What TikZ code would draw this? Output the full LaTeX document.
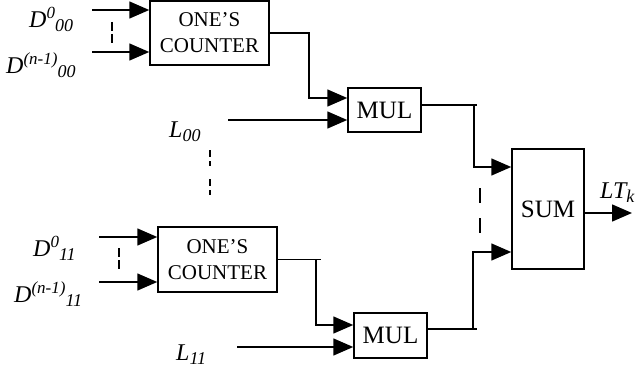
\documentclass[tikz,border=0pt]{standalone}
\usepackage{fontspec}
\setmainfont{Liberation Serif}
\usetikzlibrary{positioning,arrows.meta}
\newcommand{\sig}[3]{\textit{#1\raisebox{9pt}{\fontsize{17}{17}\selectfont #2}\raisebox{-4pt}{\fontsize{18}{18}\selectfont #3}}}

\begin{document}
\begin{tikzpicture}[x=1pt,y=-1pt,
	box/.style={draw,line width=1.5pt,inner sep=0pt,align=center,font=\fontsize{21}{26}\selectfont},
	bigbox/.style={box,font=\fontsize{25}{28}\selectfont},
	arr/.style={line width=1.5pt,-{Triangle[length=20pt,width=17pt]}},
	wire/.style={line width=1.5pt},
	gap/.style={line width=1.1pt,dash pattern=on 9pt off 3pt},
	lab/.style={inner sep=0pt,anchor=base west,font=\fontsize{24}{26}\selectfont}]
		\useasboundingbox (0,0) rectangle (635,369);
		\node [box,minimum width=119pt,minimum height=64pt]    (cnt0) at (209.5,33)    {ONE’S\\COUNTER};
		\node [box,minimum width=119pt,minimum height=65pt]    (cnt1) at (217.5,259.5) {ONE’S\\COUNTER};
		\node [bigbox,minimum width=73pt,minimum height=44pt]  (mul0) at (384.5,110)   {MUL};
		\node [bigbox,minimum width=73pt,minimum height=45pt]  (mul1) at (390.5,335.5) {MUL};
		\node [bigbox,minimum width=72pt,minimum height=120pt] (sum)  at (548,209)     {SUM};
		
		\coordinate (d00a) at (92,10);
		\coordinate (d00b) at (92,52);
		\coordinate (l00)  at (228,120);
		\coordinate (d11a) at (99,237);
		\coordinate (d11b) at (99,282);
		\coordinate (l11)  at (237,347);
		\coordinate (lt)   at (632,213);
		
		\node [lab] (d00al) at (29,28)   {\sig{D}{0}{00}};
		\node [lab] (d00bl) at (6,74)    {\sig{D}{(n-1)}{00}};
		\node [lab] (l00l)  at (169,137) {\sig{L}{}{00}};
		\node [lab] (d11al) at (33,256)  {\sig{D}{0}{11}};
		\node [lab] (d11bl) at (14,302)  {\sig{D}{(n-1)}{11}};
		\node [lab] (l11l)  at (176,360) {\sig{L}{}{11}};
		\node [lab] (ltl)   at (600,198) {\sig{LT}{}{k}};
		
		\draw [arr] (d00a) -- (d00a -| cnt0.west);
		\draw [arr] (d00b) -- (d00b -| cnt0.west);
		\draw [arr] (d11a) -- (d11a -| cnt1.west);
		\draw [arr] (d11b) -- (d11b -| cnt1.west);
		\draw [gap] (112,22) -- (112,43);
		\draw [gap] (119,248) -- (119,270);
		\draw [gap,dash pattern=on 7pt off 4pt on 5pt off 13pt] (210,150) -- (210,196);
		\draw [gap,dash pattern=on 15pt off 15pt] (480,188) -- (480,235);
		
		\draw [arr] (cnt0.east) -- ++(39,0) |- ([yshift=12pt]mul0.west);
		\draw [arr] (l00) -- (l00 -| mul0.west);
		\draw [wire] (cnt1.east) -- ++(43,0);
		\draw [arr] (cnt1.east) -- ++(38,0) |- ([yshift=10.5pt]mul1.west);
		\draw [arr] (l11) -- (l11 -| mul1.west);
		
		\draw [wire] ([yshift=5pt]mul0.east) -- ++(55,0);
		\draw [arr] ([yshift=5pt]mul0.east) ++(52,0) |- ([yshift=42pt]sum.west);
		\draw [wire] ([yshift=6.5pt]mul1.east) -- ++(49,0);
		\draw [arr] ([yshift=6.5pt]mul1.east) ++(45,0) |- ([yshift=-43pt]sum.west);
		\draw [arr] (lt -| sum.east) -- (lt);
	\end{tikzpicture}
\end{document}
